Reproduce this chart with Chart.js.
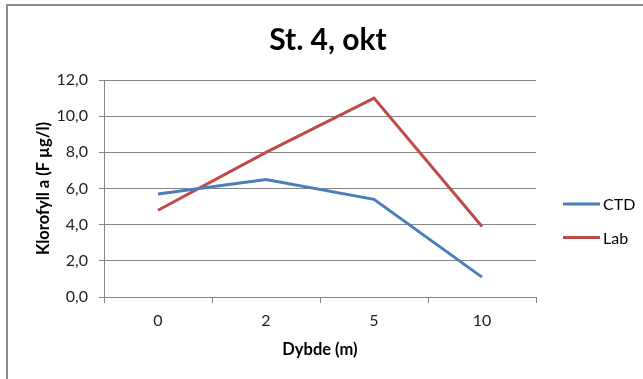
<!DOCTYPE html>
<html>
<head>
<meta charset="utf-8">
<script src="https://cdn.jsdelivr.net/npm/chart.js@4"></script>
<style>
  html, body { margin: 0; padding: 0; background: #fff; }
  #wrap { width: 643px; height: 379px; }
</style>
</head>
<body>
<div id="wrap"><canvas id="klorofyllChart" width="643" height="379"></canvas></div>
<script>
const depths = ["0", "2", "5", "10"]
const ctdValues = [5.7, 6.5, 5.4, 1.1]
const labValues = [4.8, 8.0, 11.0, 3.9]
const yTicks = [0, 2, 4, 6, 8, 10, 12]

const FONT = "Lato, 'Liberation Sans', sans-serif"
const GRID = "#868686"

Chart.defaults.font.family = FONT

// grey frame on the top and left edge, like the excel chart area
const framePlugin = {
  id: "frame",
  beforeDraw(chart) {
    const ctx = chart.ctx
    ctx.save()
    ctx.strokeStyle = "#8c8c8c"
    ctx.lineWidth = 2
    ctx.beginPath()
    ctx.moveTo(643, 5)
    ctx.lineTo(7, 5)
    ctx.lineTo(7, 379)
    ctx.stroke()
    ctx.restore()
  }
}

// legend to the right of the plot area
const sideLegend = {
  id: "sideLegend",
  afterDraw(chart) {
    const ctx = chart.ctx
    chart.data.datasets.forEach((ds, i) => {
      const y = 204 + i * 33.5
      ctx.save()
      ctx.strokeStyle = ds.borderColor
      ctx.lineWidth = ds.borderWidth
      ctx.beginPath()
      ctx.moveTo(563, y)
      ctx.lineTo(600, y)
      ctx.stroke()
      ctx.fillStyle = "#000"
      ctx.font = "16px " + FONT
      ctx.textBaseline = "middle"
      ctx.fillText(ds.label, 603, y + 1)
      ctx.restore()
    })
  }
}

new Chart(document.getElementById("klorofyllChart"), {
  type: "line",
  data: {
    labels: depths,
    datasets: [
      {
        label: "CTD",
        data: ctdValues,
        borderColor: "#4a7ebb",
        borderWidth: 3,
        pointRadius: 0,
        tension: 0
      },
      {
        label: "Lab",
        data: labValues,
        borderColor: "#be4b48",
        borderWidth: 3,
        pointRadius: 0,
        tension: 0
      }
    ]
  },
  options: {
    responsive: false,
    animation: false,
    devicePixelRatio: 1,
    layout: { padding: { left: 13, right: 0, top: 0, bottom: 0 } },
    plugins: {
      legend: { display: false },
      tooltip: { enabled: false },
      title: {
        display: true,
        text: "St. 4, okt",
        color: "#000",
        font: { size: 30, weight: "bold" },
        padding: { top: 22.5, bottom: 21.5 }
      }
    },
    scales: {
      x: {
        offset: true,
        afterFit: s => { s.height = 82 },
        border: { color: GRID },
        grid: { offset: true, drawOnChartArea: false, drawTicks: true, tickLength: 6, color: GRID },
        ticks: { padding: 8, color: "#222", font: { size: 16 } },
        title: {
          display: true,
          text: "Dybde (m)",
          color: "#000",
          font: { size: 16.5, weight: "bold" },
          padding: { top: 0, bottom: 19 }
        }
      },
      y: {
        min: 0,
        max: 12,
        afterBuildTicks: s => { s.ticks = yTicks.map(v => ({ value: v })) },
        afterFit: s => { s.width = 91 },
        border: { color: GRID },
        grid: { color: GRID, tickLength: 5 },
        ticks: {
          padding: 11,
          color: "#222",
          font: { size: 16 },
          callback: v => v.toFixed(1).replace(".", ",")
        },
        title: {
          display: true,
          text: "Klorofyll a (F µg/l)",
          color: "#000",
          font: { size: 16.5, weight: "bold" },
          padding: { top: 21, bottom: 0 }
        }
      },
      // empty scale that keeps room for the legend on the right
      legendSpace: {
        type: "linear",
        position: "right",
        afterFit: s => { s.width = 107 },
        grid: { display: false },
        border: { display: false },
        ticks: { display: false }
      }
    }
  },
  plugins: [framePlugin, sideLegend]
})
</script>
</body>
</html>
